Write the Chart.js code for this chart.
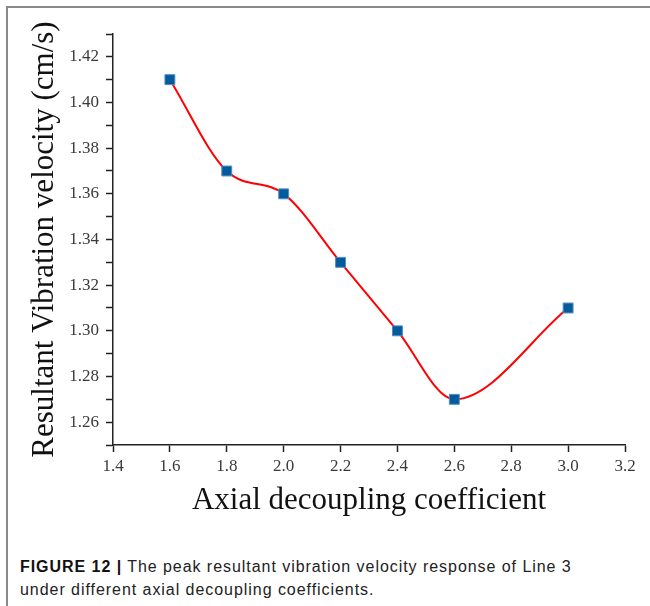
<!DOCTYPE html>
<html lang="en">
<head>
    <meta charset="UTF-8">
    <title>Peak resultant vibration velocity</title>
    <script src="https://cdn.jsdelivr.net/npm/chart.js"></script>
    <style>
        body {
            margin: 0;
            background: #ffffff;
            width: 650px;
            height: 606px;
            overflow: hidden;
            position: relative;
        }
        .frame {
            position: absolute;
            left: 6px;
            top: 6px;
            width: 644px;
            height: 600px;
            border-top: 2px solid #8a8a8a;
            border-left: 2px solid #8a8a8a;
        }
        .chart-box {
            position: absolute;
            left: 0;
            top: 0;
            width: 650px;
            height: 530px;
        }
        .caption {
            position: absolute;
            left: 20px;
            top: 555px;
            width: 625px;
            font-family: "Liberation Sans", Arial, sans-serif;
            font-size: 16px;
            letter-spacing: 0.95px;
            line-height: 23px;
            color: #222;
            white-space: nowrap;
        }
        .caption b {
            color: #111;
        }
    </style>
</head>
<body>
    <div class="frame"></div>
    <div class="chart-box">
        <canvas id="velocityChart" width="650" height="530"></canvas>
    </div>
    <div class="caption">
        <b>FIGURE 12 |</b> The peak resultant vibration velocity response of Line 3<br>
        under different axial decoupling coefficients.
    </div>
    <script>
        // axial decoupling coefficient vs peak resultant vibration velocity (cm/s)
        const coefficients = [1.6, 1.8, 2.0, 2.2, 2.4, 2.6, 3.0];
        const velocities = [1.41, 1.37, 1.36, 1.33, 1.30, 1.27, 1.31];

        const xTitle = 'Axial decoupling coefficient';
        const yTitle = 'Resultant Vibration velocity (cm/s)';

        new Chart(document.getElementById('velocityChart').getContext('2d'), {
            type: 'line',
            data: {
                datasets: [{
                    data: coefficients.map((c, i) => ({ x: c, y: velocities[i] })),
                    borderColor: '#ff0000',
                    borderWidth: 2,
                    cubicInterpolationMode: 'monotone',
                    pointStyle: 'rect',
                    pointRadius: 7,
                    pointBackgroundColor: '#045b9c',
                    pointBorderColor: '#4f8cc4',
                    pointBorderWidth: 1,
                    clip: false
                }]
            },
            options: {
                responsive: false,
                animation: false,
                layout: {
                    padding: { left: 0, top: 34, right: 25, bottom: 0 }
                },
                plugins: {
                    legend: { display: false },
                    tooltip: { enabled: false }
                },
                scales: {
                    x: {
                        type: 'linear',
                        min: 1.4,
                        max: 3.2,
                        afterFit: (scale) => { scale.height = 85; },
                        border: { color: '#222', width: 1.5 },
                        grid: {
                            drawOnChartArea: false,
                            drawTicks: true,
                            tickLength: 7,
                            tickColor: '#222',
                            tickWidth: 1.5
                        },
                        ticks: {
                            stepSize: 0.2,
                            maxRotation: 0,
                            padding: 4,
                            color: '#3a3a3a',
                            font: { family: 'Liberation Serif', size: 17 },
                            callback: (v) => v.toFixed(1)
                        },
                        title: {
                            display: true,
                            text: xTitle,
                            color: '#111',
                            font: { family: 'Liberation Serif', size: 31 },
                            padding: { top: 0, bottom: 11 }
                        }
                    },
                    y: {
                        min: 1.25,
                        max: 1.43,
                        afterFit: (scale) => { scale.width = 113; },
                        border: { color: '#222', width: 1.5 },
                        grid: {
                            drawOnChartArea: false,
                            drawTicks: true,
                            tickLength: 7,
                            tickColor: '#222',
                            tickWidth: 1.5
                        },
                        ticks: {
                            stepSize: 0.01,
                            autoSkip: false,
                            padding: 7,
                            color: '#3a3a3a',
                            font: { family: 'Liberation Serif', size: 17 },
                            callback: (v) => Math.round(v * 100) % 2 === 0 ? v.toFixed(2) : ''
                        },
                        title: {
                            display: true,
                            text: yTitle,
                            color: '#111',
                            font: { family: 'Liberation Serif', size: 31 },
                            padding: { top: 26, bottom: 0 }
                        }
                    }
                }
            }
        });
    </script>
</body>
</html>
